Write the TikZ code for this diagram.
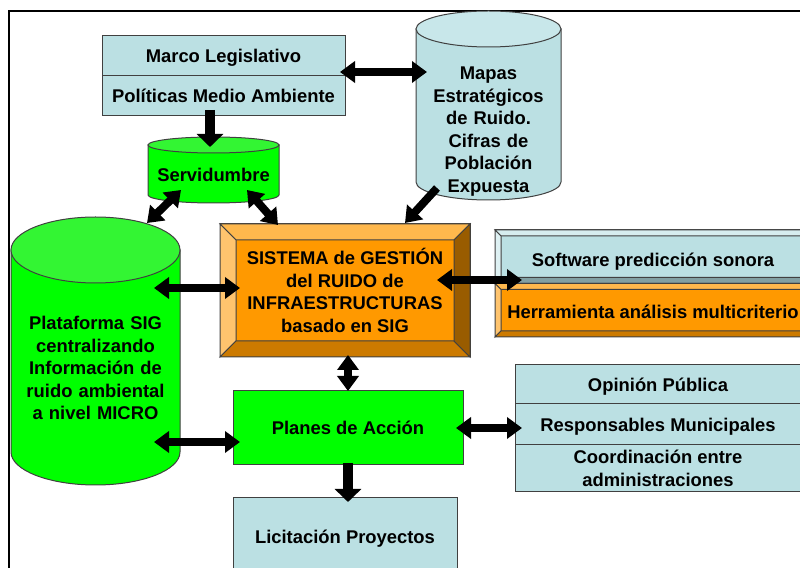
\documentclass[tikz,border=0pt]{standalone}
\usepackage{fontspec}
\setmainfont{Liberation Sans}
\usetikzlibrary{calc,arrows.meta,positioning}

\definecolor{lblue}{RGB}{187,224,227}
\definecolor{lbluetop}{RGB}{214,237,239}
\definecolor{lblueleft}{RGB}{222,241,243}
\definecolor{lbluebot}{RGB}{130,160,163}
\definecolor{lblueright}{RGB}{110,135,138}
\definecolor{lbluecap}{RGB}{200,231,234}
\definecolor{orng}{RGB}{255,153,0}
\definecolor{orngtop}{RGB}{255,184,77}
\definecolor{orngleft}{RGB}{255,196,110}
\definecolor{orngbot}{RGB}{204,122,0}
\definecolor{orngright}{RGB}{153,92,0}
\definecolor{grn}{RGB}{0,255,0}
\definecolor{grncap}{RGB}{51,245,51}

\begin{document}
\begin{tikzpicture}[x=0.5pt,y=0.5pt]

\tikzset{
lab/.style={font=\bfseries\fontsize{9.2}{11.25}\selectfont,align=center,inner sep=0pt,outer sep=0pt},
capline/.style={text height=6.6pt,text depth=0pt},
lbox/.style={lab,fill=lblue,draw=black!75,line width=0.5pt},
obox/.style={lab,fill=orng,draw=black!75,line width=0.5pt},
gbox/.style={lab,fill=grn,draw=black!75,line width=0.5pt},
rim/.style={draw=black!75,line width=0.5pt},
link/.style={line width=4pt,>={Triangle[length=7.5pt,width=10.5pt]}},
biglink/.style={line width=5pt,>={Triangle[length=6.5pt,width=13pt]}},
pageline/.style={line width=0.75pt}
}

\useasboundingbox (0,0) rectangle (800,568);
\draw[pageline] (9,0) -- (9,557) -- (800,557);

% Drums
\coordinate (mapastop) at (488.5,539);
\coordinate (mapasbot) at (488.5,386);
\coordinate (servtop) at (213.5,423);
\coordinate (servbot) at (213.5,373);
\coordinate (plattop) at (95.5,318);
\coordinate (platbot) at (95.5,116);

\filldraw[rim,fill=lblue] ($(mapastop)+(-72.5,0)$) -- ($(mapasbot)+(-72.5,0)$) arc (180:360:72.5 and 18) -- ($(mapastop)+(72.5,0)$) -- cycle;
\filldraw[rim,fill=lbluecap] (mapastop) ellipse (72.5 and 18);

\filldraw[rim,fill=grn] ($(servtop)+(-65.5,0)$) -- ($(servbot)+(-65.5,0)$) arc (180:360:65.5 and 8) -- ($(servtop)+(65.5,0)$) -- cycle;
\filldraw[rim,fill=grncap] (servtop) ellipse (65.5 and 8);

\filldraw[rim,fill=grn] ($(plattop)+(-84.5,0)$) -- ($(platbot)+(-84.5,0)$) arc (180:360:84.5 and 33) -- ($(plattop)+(84.5,0)$) -- cycle;
\filldraw[rim,fill=grncap] (plattop) ellipse (84.5 and 33);

\node[lab,text width=72.5pt] (mapas) at (488.5,436.5) {Mapas\\Estratégicos\\de Ruido.\\Cifras de\\Población\\Expuesta};
\node[lab,capline] (serv) at (213.5,393) {Servidumbre};
\node[lab,text width=84.5pt] (plataforma) at (95.5,200) {Plataforma SIG\\centralizando\\Información de\\ruido ambiental\\a nivel MICRO};

% Boxes
\node[lbox,capline,minimum width=121.5pt,minimum height=20pt] (marco) at (223.5,512) {Marco Legislativo};
\node[lbox,capline,minimum width=121.5pt,minimum height=20pt,below=0pt of marco] (politicas) {Políticas Medio Ambiente};

\node[obox,minimum width=125pt,minimum height=66.5pt] (sistema) at (345,277.5) {SISTEMA de GESTIÓN\\del RUIDO de\\INFRAESTRUCTURAS\\basado en SIG};

\node[lbox,capline,text height=9.6pt,minimum width=158pt,minimum height=26.75pt] (software) at (653,311.25) {Software predicción sonora};
\node[obox,capline,text height=8.6pt,minimum width=158pt,minimum height=26.75pt,below=0pt of software] (herramienta) {Herramienta análisis multicriterio};

\node[gbox,capline,minimum width=115pt,minimum height=37pt] (planes) at (348,140) {Planes de Acción};

\node[lbox,capline,minimum width=143pt,minimum height=19.5pt] (opinion) at (658,183.5) {Opinión Pública};
\node[lbox,capline,minimum width=143pt,minimum height=20.5pt,below=0pt of opinion] (responsables) {Responsables Municipales};
\node[lbox,minimum width=143pt,minimum height=23.5pt,below=0pt of responsables] (coordinacion) {Coordinación entre\\administraciones};

\node[lbox,capline,minimum width=112pt,minimum height=39pt] (licitacion) at (345,31) {Licitación Proyectos};

% Bevels
\filldraw[rim,fill=orngtop] (sistema.north west) -- (sistema.north east) -- ++(-16,-16) -- ($(sistema.north west)+(16,-16)$) -- cycle;
\filldraw[rim,fill=orngleft] (sistema.north west) -- ++(16,-16) -- ($(sistema.south west)+(16,16)$) -- (sistema.south west) -- cycle;
\filldraw[rim,fill=orngbot] (sistema.south west) -- ++(16,16) -- ($(sistema.south east)+(-16,16)$) -- (sistema.south east) -- cycle;
\filldraw[rim,fill=orngright] (sistema.north east) -- ++(-16,-16) -- ($(sistema.south east)+(-16,16)$) -- (sistema.south east) -- cycle;

\filldraw[rim,fill=lbluetop] (software.north west) -- (software.north east) -- ++(-6,-6) -- ($(software.north west)+(6,-6)$) -- cycle;
\filldraw[rim,fill=lblueleft] (software.north west) -- ++(6,-6) -- ($(software.south west)+(6,6)$) -- (software.south west) -- cycle;
\filldraw[rim,fill=lbluebot] (software.south west) -- ++(6,6) -- ($(software.south east)+(-6,6)$) -- (software.south east) -- cycle;
\filldraw[rim,fill=lblueright] (software.north east) -- ++(-6,-6) -- ($(software.south east)+(-6,6)$) -- (software.south east) -- cycle;

\filldraw[rim,fill=orngtop] (herramienta.north west) -- (herramienta.north east) -- ++(-6,-6) -- ($(herramienta.north west)+(6,-6)$) -- cycle;
\filldraw[rim,fill=orngleft] (herramienta.north west) -- ++(6,-6) -- ($(herramienta.south west)+(6,6)$) -- (herramienta.south west) -- cycle;
\filldraw[rim,fill=orngbot] (herramienta.south west) -- ++(6,6) -- ($(herramienta.south east)+(-6,6)$) -- (herramienta.south east) -- cycle;
\filldraw[rim,fill=orngright] (herramienta.north east) -- ++(-6,-6) -- ($(herramienta.south east)+(-6,6)$) -- (herramienta.south east) -- cycle;

% Arrows
\draw[link,<->] ($(marco.east)+(-5,-16)$) -- ($(mapastop)+(-61.5,-43)$);
\draw[biglink,->] ($(politicas.south)+(-13.5,6)$) -- ($(servtop)+(-3.5,-2)$);
\draw[link,<->] ($(servbot)+(-32.5,5)$) -- ($(plattop)+(51.5,27)$);
\draw[link,<->] ($(servbot)+(33.5,5)$) -- ($(sistema.north west)+(58,-1)$);
\draw[link,->] ($(mapasbot)+(-51.5,-6)$) -- ($(sistema.north east)+(-65,1)$);
\draw[link,<->] ($(plattop)+(58.5,-38)$) -- ($(sistema.west)+(20,2.5)$);
\draw[link,<->] ($(sistema.east)+(-33,10.5)$) -- ($(software.south west)+(27,3.5)$);
\draw[link,<->] ($(sistema.south)+(3,2)$) -- (planes.north);
\draw[link,<->] ($(platbot)+(58.5,10)$) -- ($(planes.west)+(7,-14)$);
\draw[link,<->] ($(planes.east)+(-7,0)$) -- ($(responsables.west)+(7,-3.5)$);
\draw[biglink,->] ($(planes.south)+(0,2)$) -- ($(licitacion.north)+(3,-4)$);

\end{tikzpicture}
\end{document}
